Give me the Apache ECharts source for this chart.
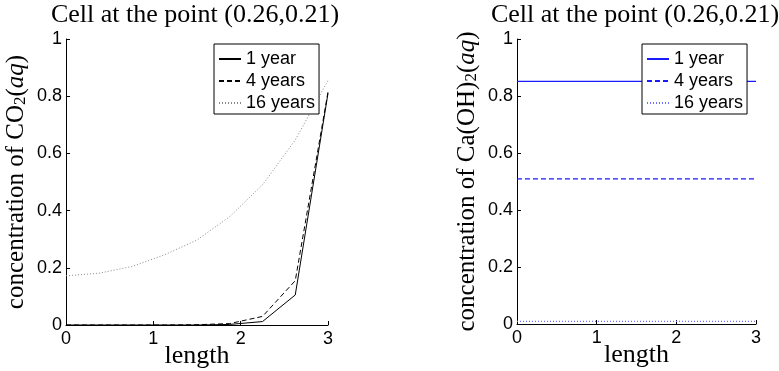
<!DOCTYPE html>
<html>
<head>
<meta charset="utf-8">
<script src="https://cdn.jsdelivr.net/npm/echarts@6/dist/echarts.min.js"></script>
<style>
html,body{margin:0;padding:0;background:#fff;}
#chart{width:779px;height:371px;}
</style>
</head>
<body>
<div id="chart"></div>
<script>
// Data
var lengthValues = [0, 0.375, 0.75, 1.125, 1.5, 1.875, 2.25, 2.625, 3];
var co2Year1  = [0, 0, 0, 0, 0, 0.002, 0.012, 0.105, 0.81];
var co2Year4  = [0, 0, 0, 0, 0.001, 0.005, 0.03, 0.155, 0.815];
var co2Year16 = [0.172, 0.181, 0.204, 0.245, 0.297, 0.379, 0.49, 0.647, 0.855];
var caYear1  = [0.851, 0.851, 0.851, 0.851, 0.851, 0.851, 0.851, 0.851, 0.851];
var caYear4  = [0.509, 0.509, 0.509, 0.509, 0.509, 0.509, 0.509, 0.509, 0.509];
var caYear16 = [0.009, 0.009, 0.009, 0.009, 0.009, 0.009, 0.009, 0.009, 0.009];
var legendLabels = ['1 year', '4 years', '16 years'];
var xTicks = [0, 1, 2, 3];
var yTicks = [0, 0.2, 0.4, 0.6, 0.8, 1];
var titleText = 'Cell at the point (0.26,0.21)';

function pairs(vals) {
  return lengthValues.map(function (x, i) { return [x, vals[i]]; });
}

var serif = 'Liberation Serif';
var sans = 'Liberation Sans';

function xAxis(idx) {
  return {
    type: 'value', gridIndex: idx,
    min: xTicks[0], max: xTicks[xTicks.length - 1], interval: 1,
    axisLine: {show: true, onZero: false, lineStyle: {color: '#000', width: 1}},
    axisTick: {show: true, inside: true, length: 4, lineStyle: {color: '#000'}},
    axisLabel: {color: '#000', fontFamily: sans, fontSize: 18, margin: 5},
    splitLine: {show: false},
    name: 'length', nameLocation: 'middle', nameGap: 18, nameMoveOverlap: false,
    nameTextStyle: {fontFamily: serif, fontSize: 26, color: '#000'}
  };
}

function yAxis(idx, name, gap) {
  return {
    type: 'value', gridIndex: idx,
    min: yTicks[0], max: yTicks[yTicks.length - 1], interval: 0.2,
    axisLine: {show: true, onZero: false, lineStyle: {color: '#000', width: 1}},
    axisTick: {show: true, inside: true, length: 4, lineStyle: {color: '#000'}},
    axisLabel: {color: '#000', fontFamily: sans, fontSize: 18, margin: 4},
    splitLine: {show: false},
    name: name, nameLocation: 'middle', nameGap: gap, nameMoveOverlap: false,
    nameTextStyle: {
      color: '#000',
      rich: {
        a: {fontFamily: serif, fontSize: 25, color: '#000', lineHeight: 28},
        s: {fontFamily: serif, fontSize: 17, color: '#000', lineHeight: 28, padding: [10, 0, 0, 0]},
        i: {fontFamily: serif, fontSize: 25, fontStyle: 'italic', color: '#000', lineHeight: 28}
      }
    }
  };
}

function legend(left, names) {
  return {
    left: left, top: 44, orient: 'vertical',
    data: names,
    itemWidth: 22, itemHeight: 14, itemGap: 0,
    textStyle: {fontFamily: sans, fontSize: 18, color: '#000', lineHeight: 22},
    itemStyle: {opacity: 0},
    borderColor: '#000', borderWidth: 1, borderRadius: 0,
    backgroundColor: '#fff',
    padding: [4, 4, 0, 4],
    selectedMode: false,
    formatter: function (n) { return legendLabels[names.indexOf(n)]; }
  };
}

function line(name, xi, vals, color, type, width) {
  return {
    name: name, type: 'line', xAxisIndex: xi, yAxisIndex: xi,
    data: pairs(vals), symbol: 'none', silent: true,
    color: color,
    lineStyle: {color: color, width: width, type: type},
    itemStyle: {color: color},
    emphasis: {disabled: true}
  };
}

var leftNames = ['L1', 'L4', 'L16'];
var rightNames = ['R1', 'R4', 'R16'];

var option = {
  animation: false,
  backgroundColor: '#fff',
  title: [
    {text: titleText, left: 195, top: 2, textAlign: 'center', padding: 0,
     textStyle: {fontFamily: serif, fontSize: 26, fontWeight: 'normal', color: '#000'}},
    {text: titleText, left: 635, top: 2, textAlign: 'center', padding: 0,
     textStyle: {fontFamily: serif, fontSize: 26, fontWeight: 'normal', color: '#000'}}
  ],
  grid: [
    {left: 66, top: 39, width: 262, height: 286, containLabel: false, outerBoundsMode: 'none'},
    {left: 517, top: 39, width: 239, height: 285, containLabel: false, outerBoundsMode: 'none'}
  ],
  xAxis: [xAxis(0), xAxis(1)],
  yAxis: [
    yAxis(0, '{a|concentration of CO}{s|2}{a|(}{i|aq}{a|)}', 36),
    yAxis(1, '{a|concentration of Ca(OH)}{s|2}{a|(}{i|aq}{a|)}', 36)
  ],
  legend: [legend(214, leftNames), legend(642, rightNames)],
  series: [
    line('L1', 0, co2Year1, '#000', 'solid', 1),
    line('L4', 0, co2Year4, '#000', [5, 3], 1),
    line('L16', 0, co2Year16, '#888', [1, 2], 1),
    line('R1', 1, caYear1, '#1a1aff', 'solid', 1.3),
    line('R4', 1, caYear4, '#1a1aff', [5, 3], 1.3),
    line('R16', 1, caYear16, '#7070ff', [1, 2], 1.2)
  ]
};

var chart = echarts.init(document.getElementById('chart'), null, {renderer: 'canvas'});
chart.setOption(option);
</script>
</body>
</html>
